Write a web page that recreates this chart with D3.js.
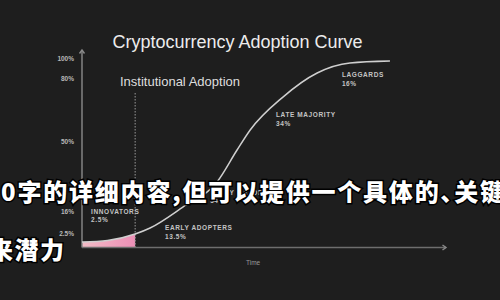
<!DOCTYPE html>
<html><head><meta charset="utf-8">
<script src="https://cdn.jsdelivr.net/npm/d3@7"></script>
<style>
html,body{margin:0;padding:0;background:#1e1e1e;}
svg{display:block}
</style>
</head><body>
<svg id="chart" width="500" height="300"></svg>
<script>
// Adopter segments (share of all adopters, %)
const segmentNames  = ["INNOVATORS", "EARLY ADOPTERS", "EARLY MAJORITY", "LATE MAJORITY", "LAGGARDS"];
const segmentShares = [2.5, 13.5, 34, 34, 16];

// Cumulative adoption curve: time (0–100) against cumulative adoption (%)
const curveTime  = [0, 7, 14.6, 18.7, 27.7, 37.1, 42.6, 46.2, 55.2, 64.6, 73.6, 84.6];
const curveValue = [1, 1.3, 2.5, 6.2, 18.4, 30.6, 46.1, 55.7, 71.4, 86, 96, 98];

// Y axis ticks
const yTickValues = [100, 80, 50, 16, 2.5];
const yTickLabels = ["100%", "80%", "50%", "16%", "2.5%"];

const titleText   = "Cryptocurrency Adoption Curve";
const markerText  = "Institutional Adoption";
const xAxisTitle  = "Time";
const overlayLines = ["0字的详细内容,但可以提供一个具体的、关键", "来潜力"];

const svg = d3.select("#chart");
svg.append("rect").attr("width", 500).attr("height", 300).attr("fill", "#1e1e1e");

const x = d3.scaleLinear().domain([0, 100]).range([82, 446]);
// piecewise scale: each tick band gets its own stretch of the axis
const y = d3.scaleLinear()
  .domain([0].concat(yTickValues.slice().reverse()))
  .range([247.5, 234, 212, 142, 79, 59]);

const pts = curveTime.map((t, i) => ({ t, v: curveValue[i] }));
const innovatorsEnd = curveTime[curveValue.indexOf(segmentShares[0])];

// gradient for the innovators band
const defs = svg.append("defs");
const grad = defs.append("linearGradient").attr("id", "pinkGrad")
  .attr("x1", "0%").attr("x2", "100%").attr("y1", "0%").attr("y2", "0%");
grad.append("stop").attr("offset", "0%").attr("stop-color", "#f2bcc6");
grad.append("stop").attr("offset", "100%").attr("stop-color", "#ec8fb6");

// title
svg.append("text").attr("x", 237.5).attr("y", 48).attr("text-anchor", "middle")
  .attr("font-family", "Liberation Sans, Arial, sans-serif").attr("font-size", 18)
  .attr("fill", "#ececec").text(titleText);

// innovators fill
const area = d3.area().x(d => x(d.t)).y0(y(0)).y1(d => y(d.v)).curve(d3.curveMonotoneX);
svg.append("path").datum(pts.filter(d => d.t <= innovatorsEnd))
  .attr("d", area).attr("fill", "url(#pinkGrad)");

// marker line at the end of the innovators phase
svg.append("line")
  .attr("x1", x(innovatorsEnd)).attr("x2", x(innovatorsEnd))
  .attr("y1", 93).attr("y2", y(0))
  .attr("stroke", "#9a9a9a").attr("stroke-width", 1).attr("stroke-dasharray", "1.5,1.5");

svg.append("text").attr("x", 120).attr("y", 86)
  .attr("font-family", "Liberation Sans, Arial, sans-serif").attr("font-size", 13)
  .attr("fill", "#dedede").text(markerText);

// axes
const axisG = svg.append("g").attr("stroke", "#8a8a8a").attr("stroke-width", 1.4).attr("fill", "none");
axisG.append("line").attr("x1", x(0)).attr("x2", x(0)).attr("y1", y(0)).attr("y2", 50);
axisG.append("path").attr("d", `M${x(0) - 2.5},${53.5}L${x(0)},${50}L${x(0) + 2.5},${53.5}`);
axisG.append("line").attr("x1", x(0)).attr("x2", x(100)).attr("y1", y(0)).attr("y2", y(0)).attr("stroke", "#6e6e6e");
axisG.append("path").attr("stroke", "#8a8a8a")
  .attr("d", `M${x(100) - 3.5},${y(0) - 2.5}L${x(100)},${y(0)}L${x(100) - 3.5},${y(0) + 2.5}`);

svg.append("g").selectAll("text").data(yTickValues).join("text")
  .attr("x", 74).attr("y", d => y(d) + 2.3).attr("text-anchor", "end")
  .attr("font-family", "Liberation Sans, Arial, sans-serif").attr("font-size", 6.5)
  .attr("font-weight", "bold").attr("fill", "#b8b8b8")
  .text((d, i) => yTickLabels[i]);

svg.append("text").attr("x", 246).attr("y", 265)
  .attr("font-family", "Liberation Sans, Arial, sans-serif").attr("font-size", 6.5)
  .attr("fill", "#9a9a9a").text(xAxisTitle);

// adoption curve
const line = d3.line().x(d => x(d.t)).y(d => y(d.v)).curve(d3.curveMonotoneX);
svg.append("path").datum(pts).attr("d", line)
  .attr("fill", "none").attr("stroke", "#cfcfcf").attr("stroke-width", 1.5);

// segment labels, anchored in (time, adoption) space
const labelAnchor = [[2.5, 14.8], [22.8, 4.95], [35.2, 24.3], [53.3, 61.9], [71.4, 82]];
const lab = svg.append("g").attr("font-family", "Liberation Sans, Arial, sans-serif")
  .attr("font-size", 6.5).attr("font-weight", "bold").attr("fill", "#c4c4c4")
  .attr("letter-spacing", 0.6);
segmentNames.forEach((name, i) => {
  const [t, v] = labelAnchor[i];
  lab.append("text").attr("x", x(t)).attr("y", y(v)).text(name);
  lab.append("text").attr("x", x(t)).attr("y", y(v) + 8.5).text(segmentShares[i] + "%");
});

// overlay caption
const cap = svg.append("g")
  .attr("font-family", "Noto Sans CJK SC, sans-serif").attr("font-weight", 900)
  .attr("font-size", 24).attr("fill", "#ffffff")
  .attr("stroke", "#000000").attr("stroke-width", 3).attr("paint-order", "stroke")
  .style("font-feature-settings", "'palt'");
cap.append("text").attr("x", 1).attr("y", 201).attr("letter-spacing", 1.8).text(overlayLines[0]);
cap.append("text").attr("x", -11).attr("y", 259).attr("letter-spacing", 1.5).text(overlayLines[1]);
</script>
</body></html>
